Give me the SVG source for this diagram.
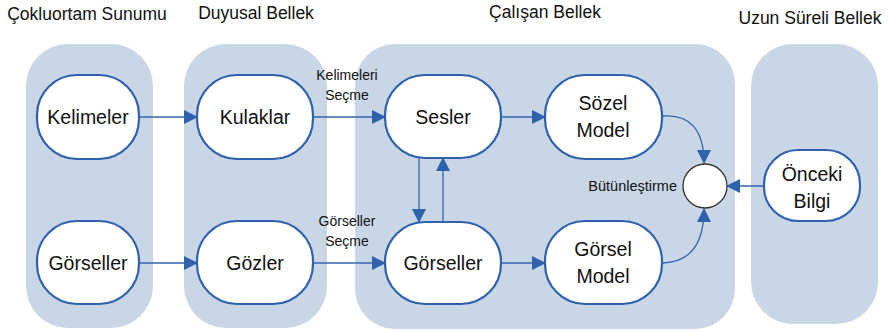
<svg xmlns="http://www.w3.org/2000/svg" width="888" height="332" viewBox="0 0 888 332">
<defs>
<style>
.col{fill:#c9d6e6;}
.node{fill:#ffffff;stroke:#2e62ad;stroke-width:2.2;}
.t{font-family:"Liberation Sans",Arial,sans-serif;fill:#111;}
.title{font-size:17.5px;text-anchor:middle;}
.nt{font-size:19.5px;text-anchor:middle;}
.sm{font-size:14px;text-anchor:middle;}
.edge{fill:none;stroke:#3565ad;stroke-width:1.3;marker-end:url(#ah);}
</style>
<marker id="ah" viewBox="0 0 14 14" refX="13" refY="7" markerWidth="14" markerHeight="14" markerUnits="userSpaceOnUse" orient="auto">
<path d="M0,0 L14,7 L0,14 Z" fill="#2e62ad"/>
</marker>
</defs>
<rect width="888" height="332" fill="#ffffff"/>
<g id="columns">
<rect class="col" x="26" y="44" width="127" height="284" rx="42" ry="42"/>
<rect class="col" x="184" y="44" width="143" height="284" rx="42" ry="42"/>
<rect class="col" x="355" y="44" width="380" height="285" rx="40" ry="40"/>
<rect class="col" x="751" y="44" width="127" height="280" rx="42" ry="42"/>
</g>
<g id="titles">
<text class="t title" x="87" y="20">Çokluortam Sunumu</text>
<text class="t title" x="256" y="19">Duyusal Bellek</text>
<text class="t title" x="545" y="18">Çalışan Bellek</text>
<text class="t title" x="810" y="24">Uzun Süreli Bellek</text>
</g>
<g id="connectors">
<path class="edge" d="M139,117 H197"/>
<path class="edge" d="M313,117 H385"/>
<path class="edge" d="M139,263 H197"/>
<path class="edge" d="M313,263 H385"/>
<path class="edge" d="M419,158 V222"/>
<path class="edge" d="M443,221 V158"/>
<path class="edge" d="M501,117 H545"/>
<path class="edge" d="M501,263 H545"/>
<path class="edge" d="M663,116 C690,114 704,130 704,163"/>
<path class="edge" d="M663,263 C690,262 704,245 704,209"/>
<path class="edge" d="M764,186 H727"/>
<text class="t sm" x="347" y="80">Kelimeleri</text>
<text class="t sm" x="347" y="100">Seçme</text>
<text class="t sm" x="347" y="226">Görseller</text>
<text class="t sm" x="347" y="246">Seçme</text>
</g>
<g id="kelimeler"><rect class="node" x="37" y="75" width="102" height="84" rx="40" ry="40"/><text class="t nt" x="88" y="124">Kelimeler</text></g>
<g id="gorseller1"><rect class="node" x="37" y="221" width="102" height="83" rx="40" ry="40"/><text class="t nt" x="88" y="270">Görseller</text></g>
<g id="kulaklar"><rect class="node" x="197" y="75" width="116" height="84" rx="40" ry="40"/><text class="t nt" x="255" y="124">Kulaklar</text></g>
<g id="gozler"><rect class="node" x="197" y="221" width="116" height="83" rx="40" ry="40"/><text class="t nt" x="255" y="270">Gözler</text></g>
<g id="sesler"><rect class="node" x="385" y="75" width="116" height="83" rx="40" ry="40"/><text class="t nt" x="443" y="124">Sesler</text></g>
<g id="gorseller2"><rect class="node" x="385" y="222" width="116" height="82" rx="40" ry="40"/><text class="t nt" x="443" y="270">Görseller</text></g>
<g id="sozel"><rect class="node" x="545" y="75" width="117" height="84" rx="40" ry="40"/><text class="t nt" x="603" y="110">Sözel</text><text class="t nt" x="603" y="137">Model</text></g>
<g id="gorsel"><rect class="node" x="545" y="221" width="117" height="83" rx="40" ry="40"/><text class="t nt" x="603" y="256">Görsel</text><text class="t nt" x="603" y="283">Model</text></g>
<g id="butunlestirme"><circle cx="705" cy="186" r="22" fill="#ffffff" stroke="#333" stroke-width="1.3"/><text class="t" x="677" y="191" font-size="14.5" text-anchor="end">Bütünleştirme</text></g>
<g id="onceki"><rect class="node" x="764" y="150" width="96" height="71" rx="34" ry="34"/><text class="t nt" x="812" y="181">Önceki</text><text class="t nt" x="812" y="208">Bilgi</text></g>
</svg>
